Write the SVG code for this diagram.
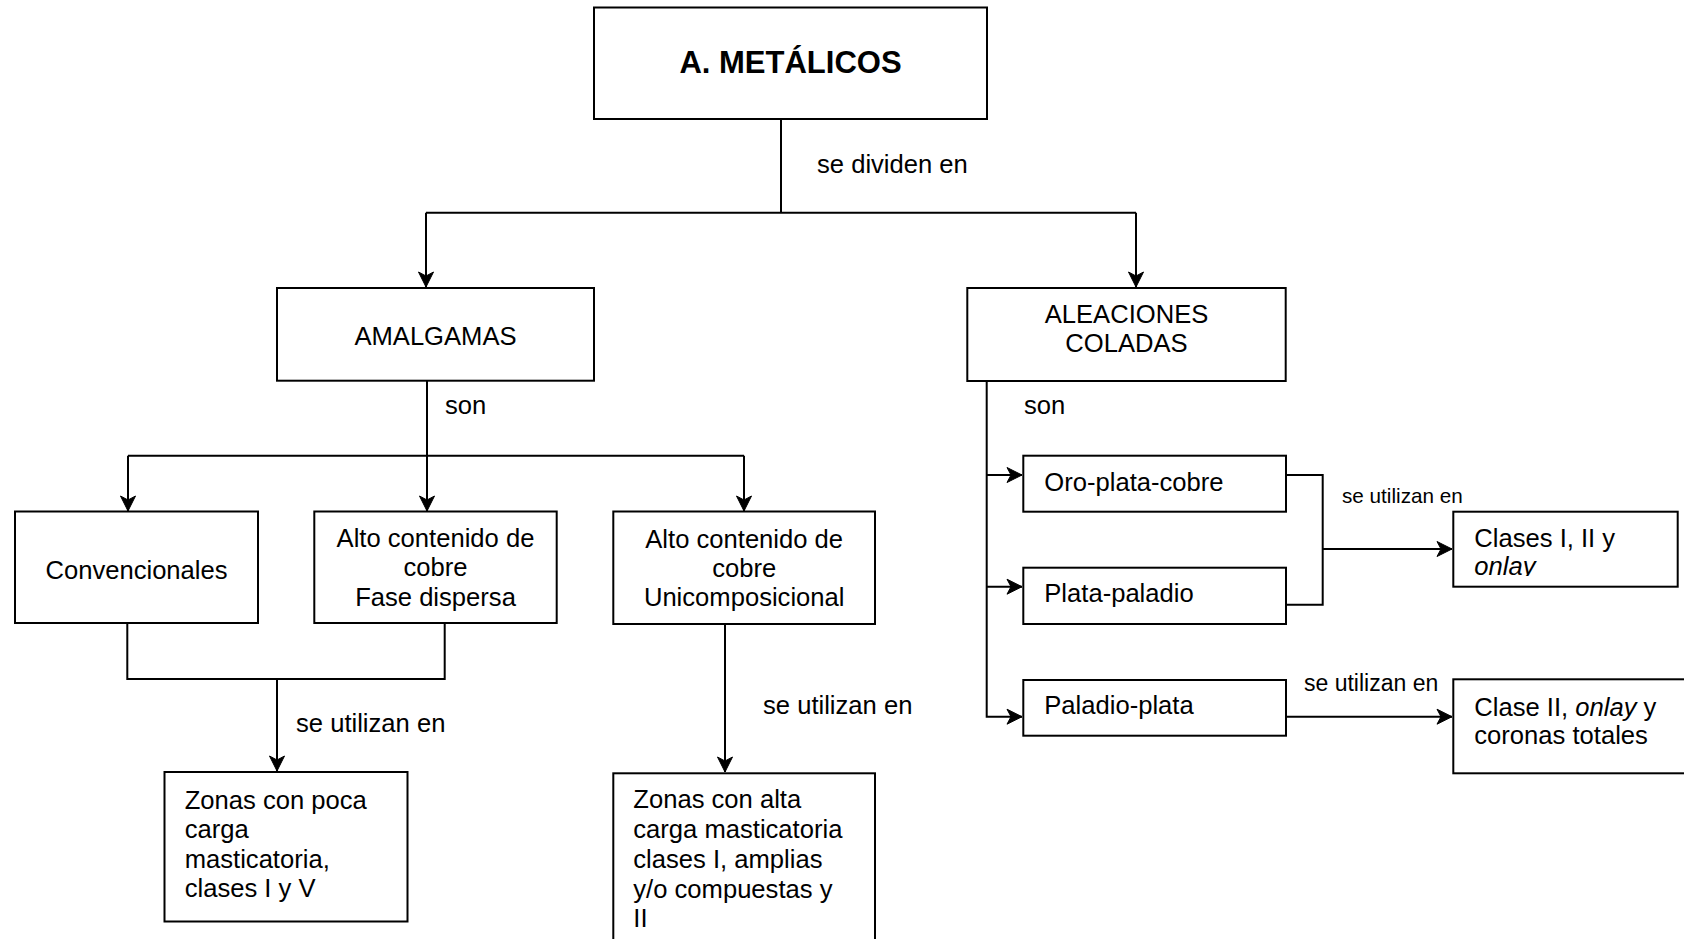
<svg xmlns="http://www.w3.org/2000/svg" width="1684" height="939" viewBox="0 0 1684 939">
<style>
.box{fill:#fff;stroke:#000;stroke-width:2}
.ln{fill:none;stroke:#000;stroke-width:2}
.t{font-family:"Liberation Sans",Arial,sans-serif;font-size:25.6px;fill:#000}
.c{text-anchor:middle}
.b{font-weight:bold;font-size:31px}
</style>
<defs>
<marker id="ah" viewBox="-16 -9 18 18" refX="0" refY="0" markerWidth="18" markerHeight="18" markerUnits="userSpaceOnUse" orient="auto">
<path d="M0,0 L-15,-7.5 L-11,0 L-15,7.5 Z" fill="#000" stroke="#000" stroke-width="1"/>
</marker>
<clipPath id="clipClases"><rect x="1453" y="511" width="226" height="65"/></clipPath>
</defs>
<rect width="1684" height="939" fill="#fff"/>
<g id="connectors">
<path class="ln" d="M781,119 V212.7 M426,212.7 H1136"/>
<path class="ln" d="M426,212.7 V287" marker-end="url(#ah)"/>
<path class="ln" d="M1136,212.7 V287" marker-end="url(#ah)"/>
<path class="ln" d="M427,380.7 V455.7 M128,455.7 H744"/>
<path class="ln" d="M128,455.7 V511" marker-end="url(#ah)"/>
<path class="ln" d="M427,455.7 V511" marker-end="url(#ah)"/>
<path class="ln" d="M744,455.7 V511" marker-end="url(#ah)"/>
<path class="ln" d="M127.3,623 V679 H444.7 V623"/>
<path class="ln" d="M277,679 V771" marker-end="url(#ah)"/>
<path class="ln" d="M725,624 V772" marker-end="url(#ah)"/>
<path class="ln" d="M986.7,381 V716.7 H1022" marker-end="url(#ah)"/>
<path class="ln" d="M986.7,475 H1022" marker-end="url(#ah)"/>
<path class="ln" d="M986.7,586.7 H1022" marker-end="url(#ah)"/>
<path class="ln" d="M1286,475 H1322.7 V604.7 H1286"/>
<path class="ln" d="M1322.7,549 H1452" marker-end="url(#ah)"/>
<path class="ln" d="M1286,716.7 H1452" marker-end="url(#ah)"/>
<text class="t" x="817" y="172.5">se dividen en</text>
<text class="t" x="445" y="414">son</text>
<text class="t" x="1024" y="414">son</text>
<text class="t" x="296" y="732">se utilizan en</text>
<text class="t" x="763" y="713.5">se utilizan en</text>
<text class="t" x="1342" y="503" style="font-size:20.7px">se utilizan en</text>
<text class="t" x="1304" y="691" style="font-size:23px">se utilizan en</text>
</g>
<g id="metalicos">
<rect class="box" x="594" y="7.5" width="393" height="111.5"/>
<text class="t c b" x="790.5" y="73">A. METÁLICOS</text>
</g>
<g id="amalgamas">
<rect class="box" x="277" y="288" width="317" height="92.7"/>
<text class="t c" x="435.5" y="345">AMALGAMAS</text>
</g>
<g id="aleaciones">
<rect class="box" x="967.3" y="288" width="318.4" height="93"/>
<text class="t c" x="1126.5" y="323">ALEACIONES</text>
<text class="t c" x="1126.5" y="352">COLADAS</text>
</g>
<g id="convencionales">
<rect class="box" x="15" y="511.5" width="243" height="111.5"/>
<text class="t c" x="136.5" y="579">Convencionales</text>
</g>
<g id="fase-dispersa">
<rect class="box" x="314.3" y="511.5" width="242.4" height="111.5"/>
<text class="t c" x="435.5" y="547">Alto contenido de</text>
<text class="t c" x="435.5" y="576">cobre</text>
<text class="t c" x="435.5" y="605.5">Fase dispersa</text>
</g>
<g id="unicomposicional">
<rect class="box" x="613.3" y="511.5" width="261.7" height="112.5"/>
<text class="t c" x="744.2" y="547.5">Alto contenido de</text>
<text class="t c" x="744.2" y="576.5">cobre</text>
<text class="t c" x="744.2" y="605.5">Unicomposicional</text>
</g>
<g id="poca-carga">
<rect class="box" x="164.5" y="772" width="243" height="149.5"/>
<text class="t" x="184.7" y="808.5">Zonas con poca</text>
<text class="t" x="184.7" y="838">carga</text>
<text class="t" x="184.7" y="867.5">masticatoria,</text>
<text class="t" x="184.7" y="896.5">clases I y V</text>
</g>
<g id="alta-carga">
<rect class="box" x="613.3" y="773.3" width="261.7" height="180"/>
<text class="t" x="633.3" y="808">Zonas con alta</text>
<text class="t" x="633.3" y="838">carga masticatoria</text>
<text class="t" x="633.3" y="867.5">clases I, amplias</text>
<text class="t" x="633.3" y="897.5">y/o compuestas y</text>
<text class="t" x="633.3" y="927">II</text>
</g>
<g id="oro-plata-cobre">
<rect class="box" x="1023.3" y="455.7" width="262.7" height="56"/>
<text class="t" x="1044.3" y="490.5">Oro-plata-cobre</text>
</g>
<g id="plata-paladio">
<rect class="box" x="1023.3" y="567.7" width="262.7" height="56.3"/>
<text class="t" x="1044.3" y="602">Plata-paladio</text>
</g>
<g id="paladio-plata">
<rect class="box" x="1023.3" y="680" width="262.7" height="55.7"/>
<text class="t" x="1044.3" y="714">Paladio-plata</text>
</g>
<g id="clases-onlay">
<rect class="box" x="1453.3" y="511.7" width="224.4" height="75"/>
<g clip-path="url(#clipClases)">
<text class="t" x="1474.3" y="547">Clases I, II y</text>
<text class="t" x="1474.3" y="575" font-style="italic">onlay</text>
</g>
</g>
<g id="clase-coronas">
<rect class="box" x="1453.3" y="679.3" width="240" height="94"/>
<text class="t" x="1474.3" y="715.5">Clase II, <tspan font-style="italic">onlay</tspan> y</text>
<text class="t" x="1474.3" y="744">coronas totales</text>
</g>
</svg>
